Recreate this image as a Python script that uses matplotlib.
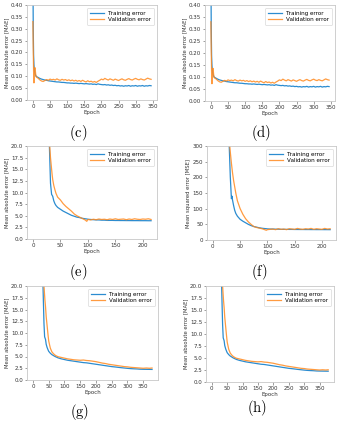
import matplotlib
matplotlib.use("Agg")
import matplotlib.pyplot as plt

plt.rcParams["mathtext.fontset"] = "cm"

# --- training histories -------------------------------------------------
# (c)/(d): normalised target, ~345 epochs
ep_cd = list(range(0, 11)) + list(range(15, 350, 5))
train_cd = [0.55, 0.30, 0.19, 0.15, 0.13, 0.12, 0.112, 0.107, 0.104, 0.101, 0.099,
            0.095, 0.091, 0.088, 0.086, 0.084, 0.083, 0.081, 0.080, 0.079, 0.078,
            0.077, 0.076, 0.076, 0.075, 0.074, 0.074, 0.073, 0.072, 0.072, 0.071,
            0.071, 0.070, 0.071, 0.070, 0.069, 0.070, 0.069, 0.068, 0.069, 0.068,
            0.067, 0.068, 0.066, 0.067, 0.065, 0.068, 0.066, 0.065, 0.064, 0.065,
            0.063, 0.064, 0.062, 0.063, 0.061, 0.062, 0.060, 0.061, 0.059, 0.060,
            0.058, 0.060, 0.059, 0.061, 0.058, 0.060, 0.059, 0.061, 0.058, 0.060,
            0.059, 0.061, 0.058, 0.060, 0.059, 0.061, 0.060]
val_cd = [0.33, 0.21, 0.12, 0.072, 0.09, 0.12, 0.136, 0.125, 0.11, 0.10, 0.097,
          0.092, 0.085, 0.080, 0.078, 0.082, 0.086, 0.083, 0.088, 0.085, 0.087,
          0.084, 0.089, 0.085, 0.083, 0.087, 0.084, 0.086, 0.082, 0.085, 0.081,
          0.084, 0.080, 0.083, 0.079, 0.082, 0.078, 0.083, 0.079, 0.076, 0.081,
          0.077, 0.079, 0.075, 0.078, 0.074, 0.079, 0.083, 0.088, 0.085, 0.091,
          0.087, 0.084, 0.089, 0.086, 0.083, 0.088, 0.085, 0.082, 0.086, 0.089,
          0.085, 0.083, 0.087, 0.090, 0.086, 0.084, 0.088, 0.091, 0.087, 0.085,
          0.089, 0.086, 0.084, 0.088, 0.092, 0.089, 0.087]

# (e)/(f): ~215 epochs, MAE and MSE
ep_ef = ([0, 5, 10, 15, 20, 25, 30, 32, 34, 35, 36, 38, 40, 42, 45]
         + list(range(50, 100, 5)) + [98] + list(range(100, 220, 5)))
train_e = [95, 70, 55, 45, 36, 28, 20, 12, 9.6, 9.4, 9.2, 8.2, 7.6, 7.2, 6.8,
           6.4, 6.0, 5.7, 5.4, 5.1, 4.9, 4.7, 4.6, 4.45, 4.35, 4.3,
           4.25, 4.2, 4.15, 4.1, 4.1, 4.05, 4.05, 4.0, 4.0, 4.0, 3.98, 3.98,
           3.97, 3.97, 3.96, 3.96, 3.95, 3.95, 3.95, 3.94, 3.94, 3.94, 3.93,
           3.93]
val_e = [110, 85, 65, 50, 40, 30, 21, 17.5, 15, 13.8, 12.8, 11.5, 10.6, 9.8, 9.0,
         8.4, 7.6, 7.0, 6.5, 6.0, 5.4, 5.0, 4.7, 4.4, 4.1, 3.8,
         4.2, 4.1, 4.25, 4.15, 4.3, 4.2, 4.25, 4.15, 4.3, 4.2, 4.35, 4.2, 4.25,
         4.3, 4.15, 4.3, 4.2, 4.35, 4.25, 4.2, 4.3, 4.25, 4.35, 4.2]
train_f = [1500, 1200, 900, 700, 550, 420, 300, 200, 132, 140, 128, 110, 95, 85, 76,
           66, 60, 55, 50, 46, 43, 41, 39, 37.5, 36.5, 36,
           35.5, 35, 35, 34.5, 34.5, 34, 34, 34, 33.8, 33.8, 33.6, 33.6, 33.5,
           33.5, 33.4, 33.4, 33.3, 33.3, 33.2, 33.2, 33.2, 33.1, 33.1, 33.0]
val_f = [1700, 1300, 1000, 800, 620, 460, 320, 280, 245, 230, 215, 190, 170, 150, 125,
         100, 82, 68, 58, 50, 43, 40, 38, 36, 33, 31,
         33, 34, 35, 33, 36, 34, 35, 33, 36, 35, 34, 37, 35, 34, 36, 35, 37, 34,
         36, 35, 34, 37, 35, 36]

# (g)/(h): ~378 epochs
ep_gh = ([0, 10, 20, 30, 33, 35, 37, 38, 40, 42, 45, 48, 50, 55, 60, 65, 70, 75, 80]
         + list(range(90, 380, 10)) + [378])
train_gh = [90, 60, 40, 25, 17, 12, 9.2, 9.0, 8.6, 7.6, 6.9, 6.4, 6.1, 5.7, 5.4,
            5.2, 5.0, 4.85, 4.7,
            4.5, 4.35, 4.2, 4.1, 4.0, 3.9, 3.8, 3.7, 3.65, 3.55, 3.45, 3.35, 3.25,
            3.15, 3.05, 2.95, 2.85, 2.78, 2.7, 2.62, 2.55, 2.48, 2.42, 2.38, 2.35,
            2.3, 2.28, 2.27, 2.26, 2.25]
val_gh = [110, 75, 50, 30, 23, 20, 18, 17, 15.5, 13.5, 11.5, 9.5, 8.3, 6.8, 6.0,
          5.6, 5.3, 5.1, 4.95,
          4.8, 4.65, 4.5, 4.4, 4.3, 4.25, 4.2, 4.25, 4.15, 4.1, 4.0, 3.9, 3.75,
          3.6, 3.5, 3.35, 3.25, 3.15, 3.05, 2.95, 2.85, 2.8, 2.7, 2.65, 2.6, 2.55,
          2.5, 2.55, 2.5, 2.55]

W, H = 340, 423
fig = plt.figure(figsize=(W / 100, H / 100), dpi=100)


def panel(box, ep, tr, va, ylim, yticks, xticks, ylabel, caption, cap_xy):
    l, t, r, b = box
    ax = fig.add_axes([l / W, 1 - b / H, (r - l) / W, (b - t) / H])
    ax.plot(ep, tr, color="#2b8cd0", lw=0.9, label="Training error")
    ax.plot(ep, va, color="#ff8a1f", lw=0.9, alpha=0.85, label="Validation error")
    ax.set_xlim(-0.05 * ep[-1], 1.05 * ep[-1])
    ax.set_ylim(*ylim)
    ax.set_yticks(yticks)
    ax.set_xticks(xticks)
    if isinstance(yticks[1], float) and yticks[1] < 1:
        ax.set_yticklabels([f"{v:.2f}" for v in yticks])
    elif isinstance(yticks[1], float):
        ax.set_yticklabels([f"{v:.1f}" for v in yticks])
    ax.tick_params(labelsize=4.0, length=1.8, width=0.4, pad=1,
                   color="#555555", labelcolor="#333333")
    for s in ax.spines.values():
        s.set_color("#c8c8c8")
        s.set_linewidth(0.6)
    ax.set_xlabel("Epoch", fontsize=4.0, labelpad=0.5, color="#333333")
    ax.set_ylabel(ylabel, fontsize=3.8, labelpad=1, color="#333333")
    leg = ax.legend(loc="upper right", fontsize=4.1, handlelength=2.4,
                    borderpad=0.5, labelspacing=0.3, framealpha=1)
    leg.get_frame().set_edgecolor("#d0d0d0")
    leg.get_frame().set_linewidth(0.4)
    for line in leg.get_lines():
        line.set_linewidth(0.9)
    fig.text(cap_xy[0] / W, 1 - cap_xy[1] / H, caption, fontsize=10.5,
             ha="center", va="center")
    return ax


yt_cd = [0.0, 0.05, 0.10, 0.15, 0.20, 0.25, 0.30, 0.35, 0.40]
yt_20 = [0.0, 2.5, 5.0, 7.5, 10.0, 12.5, 15.0, 17.5, 20.0]
xt_350 = list(range(0, 400, 50))
xt_200 = list(range(0, 250, 50))

panel((27, 5, 157, 100), ep_cd, train_cd, val_cd, (0, 0.40), yt_cd, xt_350,
      "Mean absolute error [MAE]", r"$(\mathrm{c})$", (78, 133))
panel((205, 5, 335, 101), ep_cd, train_cd, val_cd, (0, 0.40), yt_cd, xt_350,
      "Mean absolute error [MAE]", r"$(\mathrm{d})$", (261, 133))
panel((27, 146, 157, 239), ep_ef, train_e, val_e, (0, 20), yt_20, xt_200,
      "Mean absolute error [MAE]", r"$(\mathrm{e})$", (78, 272))
panel((207, 146, 336, 240), ep_ef, train_f, val_f, (0, 300),
      list(range(0, 350, 50)), xt_200,
      "Mean squared error [MSE]", r"$(\mathrm{f})$", (259, 272))
panel((27, 286, 158, 380), ep_gh, train_gh, val_gh, (0, 20), yt_20, xt_350,
      "Mean absolute error [MAE]", r"$(\mathrm{g})$", (80, 412))
panel((206, 286, 334, 382), ep_gh, train_gh, val_gh, (0, 20), yt_20, xt_350,
      "Mean absolute error [MAE]", r"$(\mathrm{h})$", (257, 408))

fig.savefig("out.png", dpi=100)
